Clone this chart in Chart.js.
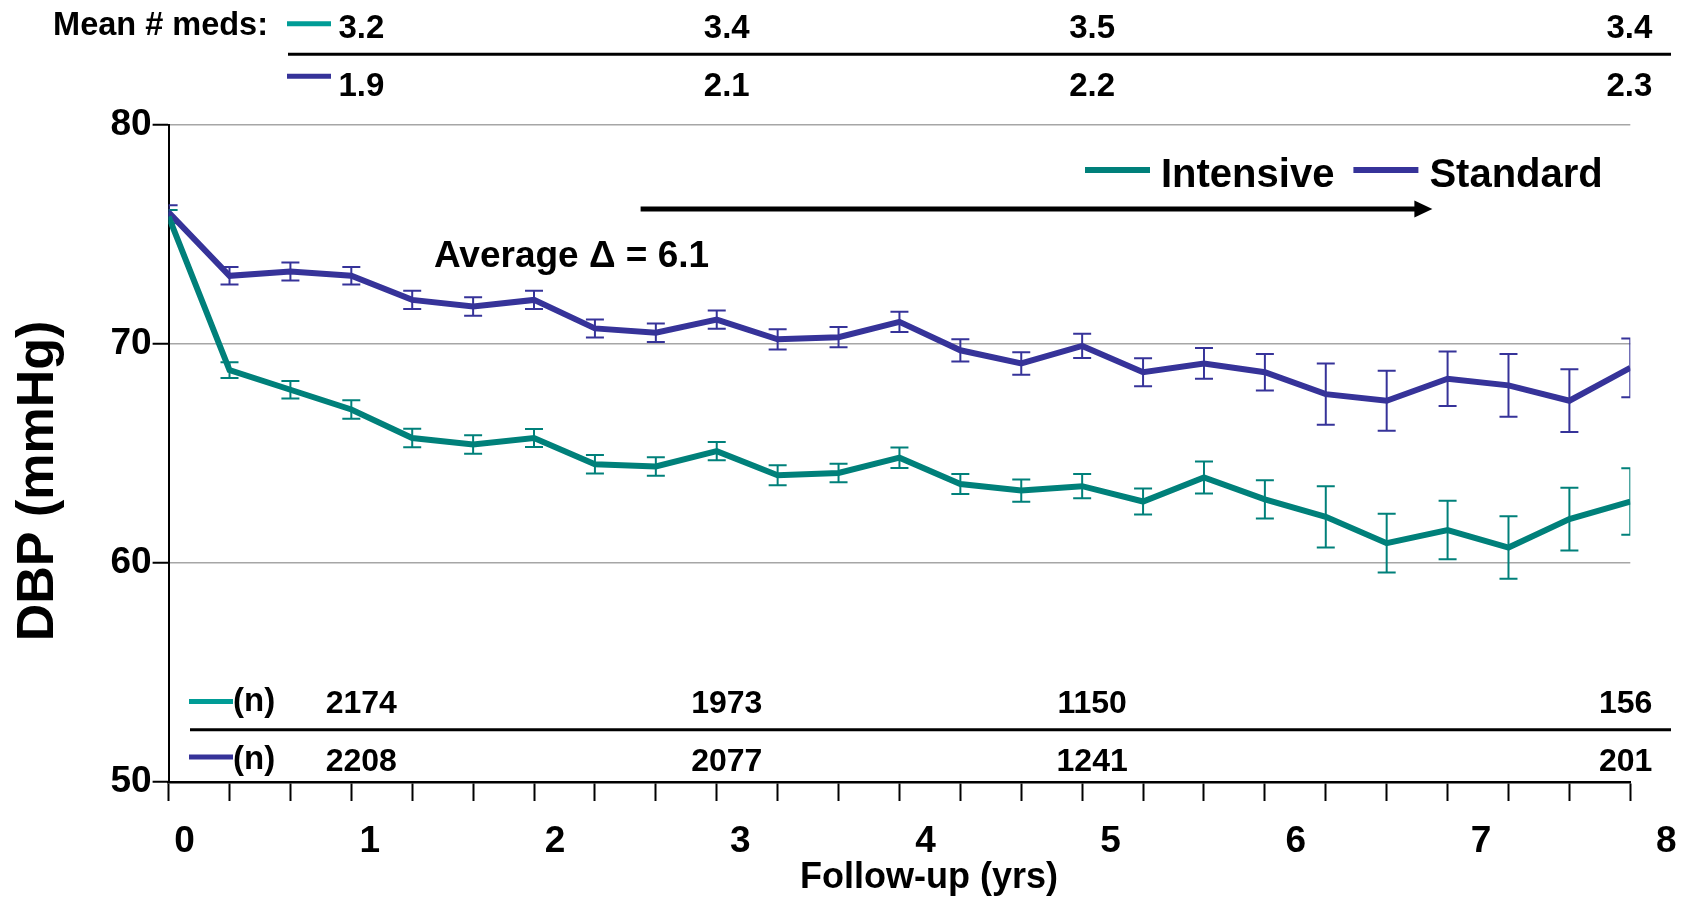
<!DOCTYPE html>
<html>
<head>
<meta charset="utf-8">
<title>Diastolic blood pressure during follow-up</title>
<script src="https://cdn.jsdelivr.net/npm/chart.js@4.4.1/dist/chart.umd.min.js"></script>
<style>
  html, body { margin: 0; padding: 0; background: #ffffff; }
  canvas { display: block; }
</style>
</head>
<body>
<canvas id="dbp" width="1684" height="897"></canvas>
<script>
// Visit times, months since randomisation
const visitMonths = [0, 4, 8, 12, 16, 20, 24, 28, 32, 36, 40, 44, 48, 52, 56, 60, 64, 68, 72, 76, 80, 84, 88, 92, 96];

// Mean diastolic blood pressure (mmHg) per visit
const intensiveDBP = [75.8, 68.8, 67.9, 67.0, 65.7, 65.4, 65.7, 64.5, 64.4, 65.1, 64.0, 64.1, 64.8,
                      63.6, 63.3, 63.5, 62.8, 63.9, 62.9, 62.1, 60.9, 61.5, 60.7, 62.0, 62.8];
const standardDBP  = [76.0, 73.1, 73.3, 73.1, 72.0, 71.7, 72.0, 70.7, 70.5, 71.1, 70.2, 70.3, 71.0,
                      69.7, 69.1, 69.9, 68.7, 69.1, 68.7, 67.7, 67.4, 68.4, 68.1, 67.4, 68.9];

// Error bar half-widths (mmHg)
const intensiveErr = [0.30, 0.36, 0.40, 0.42, 0.42, 0.42, 0.41, 0.42, 0.42, 0.42, 0.46, 0.42, 0.47,
                      0.46, 0.51, 0.55, 0.59, 0.73, 0.87, 1.40, 1.34, 1.34, 1.43, 1.43, 1.52];
const standardErr  = [0.32, 0.40, 0.41, 0.40, 0.42, 0.42, 0.42, 0.41, 0.42, 0.42, 0.46, 0.46, 0.46,
                      0.51, 0.51, 0.55, 0.64, 0.70, 0.83, 1.40, 1.37, 1.24, 1.43, 1.43, 1.34];

// Axis labels
const yearLabels = ['0', '1', '2', '3', '4', '5', '6', '7', '8'];
const dbpTicks = [50, 60, 70, 80];

// Summary tables (columns at these months)
const tableMonths   = [12, 36, 60, 96];
const medsIntensive = ['3.2', '3.4', '3.5', '3.4'];
const medsStandard  = ['1.9', '2.1', '2.2', '2.3'];
const nIntensive    = ['2174', '1973', '1150', '156'];
const nStandard     = ['2208', '2077', '1241', '201'];

const TEAL = '#00807a';
const TEAL_KEY = '#009c96';
const BLUE = '#363399';
const FONT = '"Liberation Sans", Arial, Helvetica, sans-serif';

function put(ctx, str, x, y, size, align) {
  ctx.font = 'bold ' + size + 'px ' + FONT;
  ctx.textAlign = align;
  ctx.textBaseline = 'alphabetic';
  ctx.fillStyle = '#000';
  ctx.fillText(str, x, y);
}
function seg(ctx, x1, x2, y, color, w) {
  ctx.beginPath();
  ctx.moveTo(x1, y);
  ctx.lineTo(x2, y);
  ctx.strokeStyle = color;
  ctx.lineWidth = w;
  ctx.lineCap = 'butt';
  ctx.stroke();
}

// Vertical error bars with caps, drawn under the lines
const errorBars = {
  id: 'errorBars',
  beforeDatasetsDraw(chart) {
    const ctx = chart.ctx, ys = chart.scales.y, area = chart.chartArea;
    ctx.save();
    ctx.beginPath();
    ctx.rect(area.left, area.top - 10, area.right - area.left, area.bottom - area.top + 10);
    ctx.clip();
    chart.data.datasets.forEach((ds, di) => {
      const meta = chart.getDatasetMeta(di);
      ctx.strokeStyle = ds.borderColor;
      ctx.lineWidth = 2;
      meta.data.forEach((pt, i) => {
        const v = ds.data[i].y, e = ds.err[i];
        const top = ys.getPixelForValue(v + e), bot = ys.getPixelForValue(v - e);
        ctx.beginPath();
        ctx.moveTo(pt.x, top); ctx.lineTo(pt.x, bot);
        ctx.moveTo(pt.x - 9, top); ctx.lineTo(pt.x + 9, top);
        ctx.moveTo(pt.x - 9, bot); ctx.lineTo(pt.x + 9, bot);
        ctx.stroke();
      });
    });
    ctx.restore();
  }
};

// Axis labels, titles, legend, annotation and the two summary tables
const decorations = {
  id: 'decorations',
  afterDraw(chart) {
    const ctx = chart.ctx, xs = chart.scales.x, ys = chart.scales.y;
    const px = m => xs.getPixelForValue(m);
    ctx.save();

    // year labels under the axis
    const x0 = px(0), x8 = px(96);
    const step = (x8 - x0 + 20) / 8;
    yearLabels.forEach((t, i) => put(ctx, t, x0 + 16 + i * step, 852, 37, 'center'));

    // axis titles
    put(ctx, 'Follow-up (yrs)', 929, 888, 36, 'center');
    ctx.save();
    ctx.translate(53, 481);
    ctx.rotate(-Math.PI / 2);
    put(ctx, 'DBP (mmHg)', 0, 0, 52, 'center');
    ctx.restore();

    // legend
    const ds = chart.data.datasets;
    let lx = 1085;
    ds.forEach(d => {
      seg(ctx, lx, lx + 65, 170, d.borderColor, 6);
      lx += 76;
      put(ctx, d.label, lx, 187, 40, 'left');
      ctx.font = 'bold 40px ' + FONT;
      lx += ctx.measureText(d.label).width + 19;
    });

    // annotation: average difference and follow-up arrow
    put(ctx, 'Average \u0394 = 6.1', 434, 267, 37, 'left');
    const ay = ys.getPixelForValue(76.15);
    const ax1 = px(31), ax2 = px(83);
    seg(ctx, ax1, ax2 - 16, ay, '#000', 5);
    ctx.beginPath();
    ctx.moveTo(ax2, ay);
    ctx.lineTo(ax2 - 18, ay - 8.5);
    ctx.lineTo(ax2 - 18, ay + 8.5);
    ctx.closePath();
    ctx.fillStyle = '#000';
    ctx.fill();

    const colX = i => px(tableMonths[i]) + (i === tableMonths.length - 1 ? 22 : 10);
    const colAlign = i => (i === tableMonths.length - 1 ? 'right' : 'center');

    // mean number of medications
    put(ctx, 'Mean # meds:', 268, 35, 32.5, 'right');
    seg(ctx, 287, 331, 23.7, TEAL_KEY, 5);
    seg(ctx, 287, 331, 76.3, BLUE, 5);
    seg(ctx, 288, 1671, 54.3, '#000', 3);
    medsIntensive.forEach((t, i) => put(ctx, t, colX(i), 37.5, 33, colAlign(i)));
    medsStandard.forEach((t, i) => put(ctx, t, colX(i), 96, 33, colAlign(i)));

    // participants at risk
    seg(ctx, 189, 233, 701.5, TEAL_KEY, 5);
    seg(ctx, 189, 233, 757, BLUE, 5);
    put(ctx, '(n)', 233, 711, 33, 'left');
    put(ctx, '(n)', 233, 769, 33, 'left');
    seg(ctx, 190, 1671, 729.7, '#000', 3);
    nIntensive.forEach((t, i) => put(ctx, t, colX(i), 713, 32, colAlign(i)));
    nStandard.forEach((t, i) => put(ctx, t, colX(i), 771, 32, colAlign(i)));

    ctx.restore();
  }
};

const toPoints = (vals) => vals.map((v, i) => ({ x: visitMonths[i], y: v }));

new Chart(document.getElementById('dbp'), {
  type: 'line',
  data: {
    datasets: [
      { label: 'Intensive', data: toPoints(intensiveDBP), err: intensiveErr,
        borderColor: TEAL, backgroundColor: TEAL, borderWidth: 6, pointRadius: 0, tension: 0, fill: false },
      { label: 'Standard', data: toPoints(standardDBP), err: standardErr,
        borderColor: BLUE, backgroundColor: BLUE, borderWidth: 6, pointRadius: 0, tension: 0, fill: false }
    ]
  },
  options: {
    responsive: false,
    devicePixelRatio: 1,
    animation: false,
    layout: { padding: { top: 124.6, right: 53.7, left: 0, bottom: 0 } },
    plugins: { legend: { display: false }, tooltip: { enabled: false } },
    scales: {
      x: {
        type: 'linear', min: 0, max: 96,
        afterBuildTicks: s => { s.ticks = visitMonths.map(v => ({ value: v })); },
        afterFit: s => { s.height = 115; },
        ticks: { display: false },
        grid: { drawOnChartArea: false, drawTicks: true, tickLength: 19, tickColor: '#000', tickWidth: 2 },
        border: { display: true, color: '#000', width: 2.5 }
      },
      y: {
        min: 50, max: 80,
        afterBuildTicks: s => { s.ticks = dbpTicks.map(v => ({ value: v })); },
        afterFit: s => { s.width = 168.6; },
        ticks: { color: '#000', padding: 1, font: { family: FONT, size: 37, weight: 'bold' } },
        grid: {
          color: c => (c.tick && c.tick.value === 50 ? 'rgba(0,0,0,0)' : '#a6a6a6'),
          lineWidth: 1.5, tickLength: 16, tickColor: '#000', tickWidth: 2
        },
        border: { display: true, color: '#000', width: 2 }
      }
    }
  },
  plugins: [errorBars, decorations]
});
</script>
</body>
</html>
